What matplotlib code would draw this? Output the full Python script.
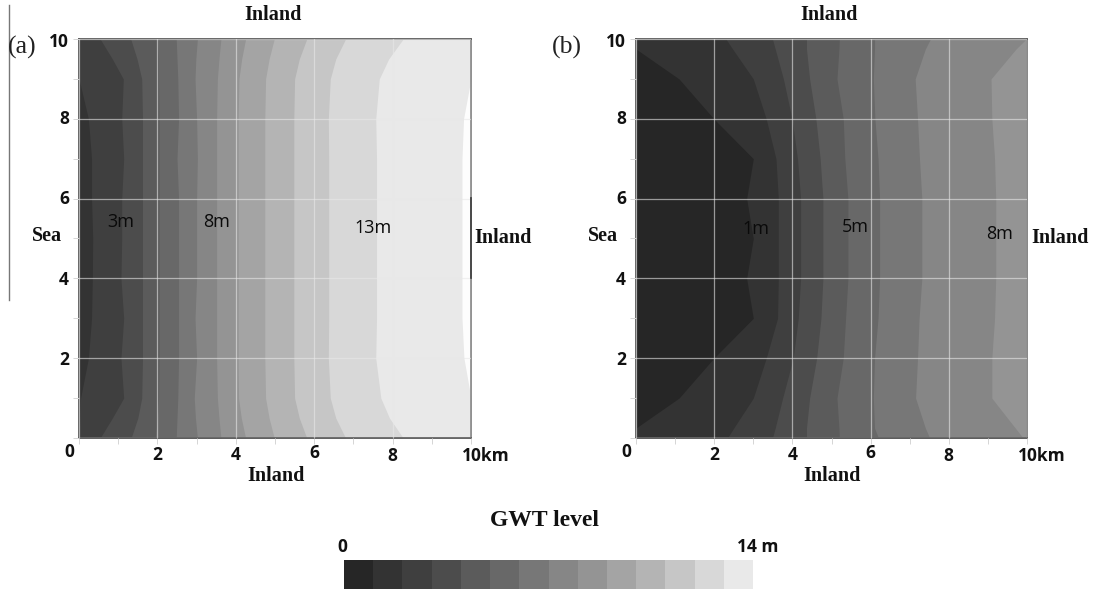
import matplotlib
matplotlib.use('Agg')
import matplotlib.pyplot as plt
from matplotlib.transforms import ScaledTranslation
import numpy as np

W, H = 1094, 594

# Northing (km) at which each contour's easting is read
y_a = [0, .5, 1, 2, 3, 4, 5, 6, 7, 8, 9, 9.5, 10]
y_b = [0, .25, 1, 2, 3, 4, 5, 6, 7, 8, 9, 9.75, 10]

# Panel (a): easting (km) of each contour
a1 = [0, .02, .04, .24, .32, .34, .35, .32, .32, .24, 0, 0, 0]
a2 = [.54, .85, 1.14, 1.07, 1.14, 1.07, 1.09, 1.09, 1.14, 1.09, 1.13, .85, .54]
a3 = [1.33, 1.5, 1.6, 1.62, 1.62, 1.62, 1.62, 1.62, 1.62, 1.62, 1.6, 1.48, 1.32]
a4 = [1.95, 2.0, 2.03, 2.04, 2.04, 2.04, 2.04, 2.04, 2.04, 2.04, 2.03, 2.03, 2.01]
a5 = [2.48, 2.5, 2.52, 2.54, 2.54, 2.54, 2.54, 2.54, 2.5, 2.54, 2.52, 2.5, 2.48]
a6 = [3.02, 2.97, 2.94, 3.0, 2.96, 3.0, 3.0, 3.0, 3.02, 3.0, 2.96, 2.98, 3.02]
a7 = [3.62, 3.57, 3.53, 3.51, 3.51, 3.51, 3.51, 3.51, 3.51, 3.51, 3.53, 3.57, 3.62]
a8 = [4.25, 4.14, 4.07, 4.06, 4.06, 4.06, 4.06, 4.06, 4.06, 4.06, 4.08, 4.15, 4.25]
a9 = [4.98, 4.85, 4.76, 4.74, 4.74, 4.74, 4.74, 4.74, 4.74, 4.74, 4.76, 4.85, 4.98]
a10 = [5.81, 5.62, 5.5, 5.48, 5.48, 5.48, 5.48, 5.48, 5.48, 5.48, 5.5, 5.62, 5.81]
a11 = [6.8, 6.55, 6.41, 6.36, 6.37, 6.37, 6.37, 6.37, 6.37, 6.36, 6.41, 6.55, 6.8]
a12 = [8.27, 7.92, 7.7, 7.57, 7.59, 7.59, 7.59, 7.59, 7.59, 7.57, 7.66, 7.9, 8.27]
a13 = [10, 10, 10, 9.82, 9.77, 9.77, 9.77, 9.77, 9.77, 9.81, 10, 10, 10]
contours_a = [a1, a2, a3, a4, a5, a6, a7, a8, a9, a10, a11, a12, a13]

# Panel (b): easting (km) of each contour
b1 = [0, 0, 1.1, 1.99, 3.0, 2.83, 3.0, 2.83, 3.0, 1.99, 1.1, 0, 0]
b2 = [2.34, 2.5, 3.0, 3.33, 3.62, 3.64, 3.64, 3.64, 3.58, 3.33, 3.0, 2.47, 2.3]
b3 = [3.49, 3.56, 3.75, 4.02, 4.15, 4.21, 4.21, 4.21, 4.13, 3.99, 3.77, 3.56, 3.49]
b4 = [4.36, 4.36, 4.44, 4.62, 4.73, 4.78, 4.78, 4.78, 4.71, 4.6, 4.44, 4.36, 4.36]
b5 = [5.2, 5.19, 5.14, 5.3, 5.36, 5.42, 5.42, 5.42, 5.34, 5.3, 5.14, 5.19, 5.2]
b6 = [6.2, 6.1, 6.07, 6.1, 6.19, 6.23, 6.23, 6.23, 6.19, 6.11, 6.07, 6.1, 6.1]
b7 = [7.51, 7.4, 7.15, 7.2, 7.24, 7.31, 7.31, 7.31, 7.25, 7.2, 7.14, 7.4, 7.53]
b8 = [9.9, 9.7, 9.1, 9.1, 9.17, 9.2, 9.2, 9.2, 9.17, 9.1, 9.08, 9.72, 9.98]
contours_b = [b1, b2, b3, b4, b5, b6, b7, b8]

# Grey band colours, lowest to highest level
band_colors = ['#262626', '#333333', '#3f3f3f', '#4c4c4c', '#5b5b5b', '#686868', '#777777',
               '#868686', '#949494', '#a4a4a4', '#b4b4b4', '#c6c6c6', '#d8d8d8', '#e9e9e9']
bands_a = band_colors[1:] + ['#fdfdfd']
bands_b = band_colors[:9]

tick_labels_x = ['0', '2', '4', '6', '8', '10km']
tick_labels_y = ['', '2', '4', '6', '8', '10']
tick_values = [0, 2, 4, 6, 8, 10]

SANS = 'Open Sans'
SERIF = 'Liberation Serif'


def px_axes(l, t, r, b):
    return fig.add_axes([l / W, 1 - b / H, (r - l) / W, (b - t) / H])


def put(x, y, s, **kw):
    kw.setdefault('ha', 'center')
    kw.setdefault('va', 'center')
    fig.text(x / W, 1 - y / H, s, **kw)


fig = plt.figure(figsize=(W / 100, H / 100), dpi=100, facecolor='white')


def nudge(lab, dx, dy):
    lab.set_transform(lab.get_transform() + ScaledTranslation(dx / 100, dy / 100, fig.dpi_scale_trans))


def panel(left, right, ys, contours, colors):
    ax = px_axes(left, 39, right, 438)
    ax.set_xlim(0, 10)
    ax.set_ylim(0, 10)
    ax.set_facecolor(colors[0])
    for c, col in zip(contours, colors[1:]):
        ax.fill_betweenx(ys, c, 10, color=col, lw=0, zorder=1)
    ax.set_xticks(tick_values, tick_labels_x)
    ax.set_yticks(tick_values, tick_labels_y)
    ax.set_xticks(range(1, 10, 2), minor=True)
    ax.set_yticks(range(1, 10, 2), minor=True)
    ax.grid(True, which='major', color='#e8e8e8', lw=0.9, alpha=.6, zorder=2)
    ax.set_axisbelow(False)
    ax.tick_params(which='both', length=4, width=.7, color='#d5d5d5')
    ax.tick_params(which='major', labelsize=12.5, pad=4)
    for lab in ax.get_xticklabels() + ax.get_yticklabels():
        lab.set_fontfamily(SANS)
        lab.set_fontweight('bold')
        lab.set_color('#111111')
    for s in ax.spines.values():
        s.set_color('#5c5c5c')
        s.set_linewidth(1.3)
    ax.spines['right'].set_color('#8a8a8a')
    # nudge tick labels to their positions in the figure
    for lab, dx, dy in zip(ax.get_xticklabels(), [-10, 0, 0, 0, 0, 15], [6, 3, 3, 5, 2, 2]):
        nudge(lab, dx, dy)
    for lab, dy in zip(ax.get_yticklabels(), [0, 0, 0, 2, 2, -1]):
        nudge(lab, 1, dy)
    return ax


ax_a = panel(79, 471, y_a, contours_a, bands_a)
ax_b = panel(636, 1027, y_b, contours_b, bands_b)

# short dark section of panel (a)'s right border and the stray rule on the left
fig.add_artist(plt.Line2D([471 / W, 471 / W], [1 - 198 / H, 1 - 278 / H], color='#444444', lw=1.3))
fig.add_artist(plt.Line2D([9 / W, 9 / W], [1 - 5 / H, 1 - 300 / H], color='#777777', lw=1.0))

serif_b = dict(family=SERIF, fontweight='bold', color='#111111', fontsize=14.5)
for x, y in [(273, 15), (276, 476), (503, 238), (829, 15), (832, 476), (1060, 238)]:
    put(x, y, 'Inland', **serif_b)
put(47, 236, 'Sea', **serif_b)
put(603, 236, 'Sea', **serif_b)
put(22, 47, '(a)', family=SERIF, fontsize=18.5, color='#222222')
put(567, 47, '(b)', family=SERIF, fontsize=18.5, color='#222222')

lab = dict(family=SANS, fontsize=13, color='#0a0a0a')
for x, y, s in [(121, 222, '3m'), (217, 222, '8m'), (373, 228, '13m'),
                (756, 229, '1m'), (855, 227, '5m'), (1000, 234, '8m')]:
    put(x, y, s, **lab)

# colour bar
cax = px_axes(344, 560, 753, 589)
cax.axis('off')
cax.set_xlim(0, len(band_colors))
cax.set_ylim(0, 1)
cax.bar(np.arange(len(band_colors)), 1, width=1.02, align='edge', color=band_colors, lw=0)

put(545, 520, 'GWT level', family=SERIF, fontweight='bold', fontsize=17, color='#111111')
put(342, 547, '0', family=SANS, fontweight='bold', fontsize=12.5, color='#111111')
put(758, 547, '14 m', family=SANS, fontweight='bold', fontsize=12.5, color='#111111')

fig.savefig('out.png', dpi=100)
